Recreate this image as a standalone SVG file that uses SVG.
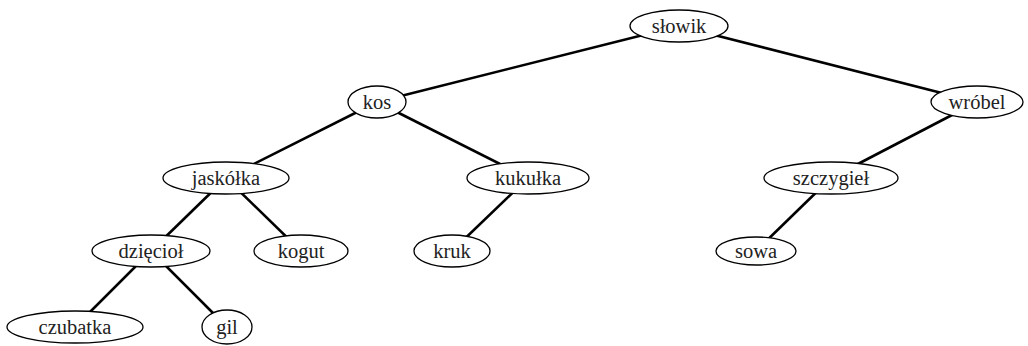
<svg xmlns="http://www.w3.org/2000/svg" width="1028" height="346" viewBox="0 0 1028 346">
<style>
.e{stroke:#000;stroke-width:1.3;fill:#fff}
.t{font-family:"Liberation Serif","DejaVu Serif",serif;font-size:20.5px;fill:#222;text-anchor:middle;dominant-baseline:central}
#edges line{stroke:#000;stroke-width:2.6}
</style>
<rect width="1028" height="346" fill="#fff"/>
<g id="edges">
<line x1="679" y1="26" x2="377" y2="102"/>
<line x1="679" y1="26" x2="977" y2="102"/>
<line x1="377" y1="102" x2="226" y2="178"/>
<line x1="377" y1="102" x2="528" y2="178"/>
<line x1="977" y1="102" x2="831" y2="178"/>
<line x1="226" y1="178" x2="151" y2="251"/>
<line x1="226" y1="178" x2="301" y2="251"/>
<line x1="528" y1="178" x2="452" y2="251"/>
<line x1="831" y1="178" x2="756" y2="251"/>
<line x1="151" y1="251" x2="75" y2="327"/>
<line x1="151" y1="251" x2="227" y2="327"/>
</g>
<g id="slowik"><ellipse class="e" cx="679" cy="26" rx="49" ry="16"/><text class="t" x="679" y="26">słowik</text></g>
<g id="kos"><ellipse class="e" cx="377" cy="102" rx="29" ry="16"/><text class="t" x="377" y="102">kos</text></g>
<g id="wrobel"><ellipse class="e" cx="977" cy="102" rx="46" ry="16"/><text class="t" x="977" y="102">wróbel</text></g>
<g id="jaskolka"><ellipse class="e" cx="226" cy="178" rx="63" ry="16"/><text class="t" x="226" y="178">jaskółka</text></g>
<g id="kukulka"><ellipse class="e" cx="528" cy="178" rx="61" ry="16"/><text class="t" x="528" y="178">kukułka</text></g>
<g id="szczygiel"><ellipse class="e" cx="831" cy="178" rx="67" ry="16"/><text class="t" x="831" y="178">szczygieł</text></g>
<g id="dzieciol"><ellipse class="e" cx="151" cy="251" rx="59" ry="16"/><text class="t" x="151" y="251">dzięcioł</text></g>
<g id="kogut"><ellipse class="e" cx="301" cy="251" rx="47" ry="16"/><text class="t" x="301" y="251">kogut</text></g>
<g id="kruk"><ellipse class="e" cx="452" cy="251" rx="38" ry="16"/><text class="t" x="452" y="251">kruk</text></g>
<g id="sowa"><ellipse class="e" cx="756" cy="251" rx="40" ry="14"/><text class="t" x="756" y="251">sowa</text></g>
<g id="czubatka"><ellipse class="e" cx="75" cy="327" rx="68" ry="16"/><text class="t" x="75" y="327">czubatka</text></g>
<g id="gil"><ellipse class="e" cx="227" cy="327" rx="25" ry="17"/><text class="t" x="227" y="327">gil</text></g>
</svg>
